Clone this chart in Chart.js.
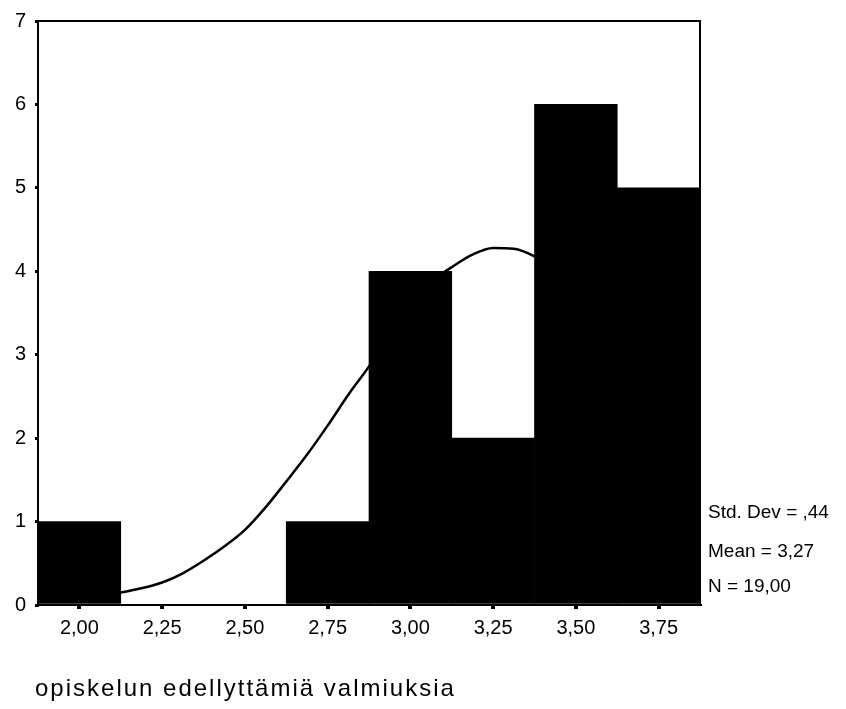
<!DOCTYPE html>
<html>
<head>
<meta charset="utf-8">
<script src="https://cdn.jsdelivr.net/npm/chart.js@4.4.1/dist/chart.umd.min.js"></script>
<style>
  html, body { margin: 0; padding: 0; background: #fff; }
  #wrap { width: 846px; height: 709px; }
</style>
</head>
<body>
<div id="wrap"><canvas id="c" width="846" height="709"></canvas></div>
<script>
// histogram bins (centres) and counts
var binCenters = [2.00, 2.25, 2.50, 2.75, 3.00, 3.25, 3.50, 3.75];
var counts = [1, 0, 0, 1, 4, 2, 6, 5];

// normal curve (hidden parts estimated)
var curveX = [1.875, 1.9375, 2.0, 2.0625, 2.125, 2.1875, 2.25, 2.3125, 2.375, 2.4375, 2.5, 2.5625,
  2.625, 2.6875, 2.75, 2.8125, 2.875, 2.9375, 3.0, 3.0625, 3.125, 3.1875, 3.25, 3.3125, 3.375,
  3.4375, 3.5, 3.5625, 3.625, 3.6875, 3.75, 3.8125, 3.875];
var curveY = [0.04, 0.05, 0.07, 0.10, 0.15, 0.20, 0.27, 0.38, 0.53, 0.70, 0.90, 1.17,
  1.48, 1.80, 2.15, 2.52, 2.86, 3.25, 3.60, 3.87, 4.05, 4.20, 4.28, 4.27, 4.18,
  4.02, 3.80, 3.50, 3.18, 2.82, 2.45, 2.08, 1.72];

var yTicks = [0, 1, 2, 3, 4, 5, 6, 7];
var statLines = ['Std. Dev = ,44', 'Mean = 3,27', 'N = 19,00'];
var xTitle = 'opiskelun edellyttämiä valmiuksia';

var FONT = "'Liberation Sans', Arial, sans-serif";
Chart.defaults.font.family = FONT;
Chart.defaults.color = '#000';

var ctx = document.getElementById('c');

var extras = {
  id: 'extras',
  afterDraw: function(chart) {
    var c = chart.ctx, a = chart.chartArea;
    c.save();
    // frame round the plot
    c.strokeStyle = '#000';
    c.lineWidth = 2;
    c.strokeRect(a.left, a.top, a.right - a.left, a.bottom - a.top);
    // stats text
    c.fillStyle = '#000';
    c.font = '19px ' + FONT;
    c.textBaseline = 'middle';
    c.textAlign = 'left';
    var ys = [513, 552, 587];
    statLines.forEach(function(t, i) { c.fillText(t, a.right + 8, ys[i]); });
    // bottom title
    c.font = '24px ' + FONT;
    c.letterSpacing = '2px';
    c.textBaseline = 'alphabetic';
    c.fillText(xTitle, 35, 696);
    c.restore();
  }
};

new Chart(ctx, {
  data: {
    datasets: [{
      type: 'bar',
      data: binCenters.map(function(x, i) { return {x: x, y: counts[i]}; }),
      backgroundColor: '#000',
      borderColor: '#000',
      borderWidth: 0,
      barPercentage: 1.0,
      categoryPercentage: 1.0,
      order: 0
    }, {
      type: 'line',
      data: curveX.map(function(x, i) { return {x: x, y: curveY[i]}; }),
      borderColor: '#000',
      borderWidth: 2.5,
      pointRadius: 0,
      cubicInterpolationMode: 'monotone',
      fill: false,
      order: 1
    }]
  },
  plugins: [extras],
  options: {
    responsive: false,
    animation: false,
    events: [],
    layout: { padding: { top: 17, right: 146, bottom: 44, left: 0 } },
    plugins: {
      legend: { display: false },
      title: { display: false },
      tooltip: { enabled: false }
    },
    scales: {
      x: {
        type: 'linear',
        min: 1.875,
        max: 3.875,
        offset: false,
        afterBuildTicks: function(scale) {
          scale.ticks = binCenters.map(function(v) { return {value: v}; });
        },
        afterFit: function(scale) { scale.height = 60; },
        ticks: {
          font: { size: 20 },
          padding: 7,
          maxRotation: 0,
          autoSkip: false,
          callback: function(v) { return v.toFixed(2).replace('.', ','); }
        },
        grid: { display: true, offset: false, drawOnChartArea: false, drawTicks: true, tickLength: 4, color: '#000', lineWidth: 4 },
        border: { display: true, color: '#000', width: 2 }
      },
      y: {
        min: 0,
        max: 7,
        afterBuildTicks: function(scale) {
          scale.ticks = yTicks.map(function(v) { return {value: v}; });
        },
        afterFit: function(scale) { scale.width = 38; },
        ticks: {
          font: { size: 20 },
          padding: 9,
          callback: function(v) { return String(v); }
        },
        grid: { display: true, drawOnChartArea: false, drawTicks: true, tickLength: 3, color: '#000', lineWidth: 3 },
        border: { display: true, color: '#000', width: 2 }
      }
    }
  }
});
</script>
</body>
</html>
